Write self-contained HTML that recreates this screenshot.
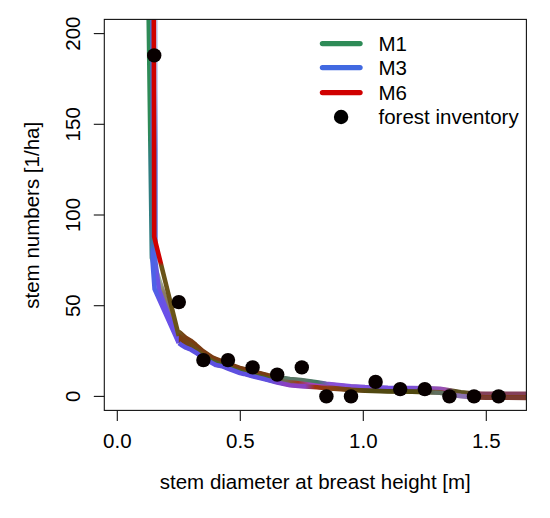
<!DOCTYPE html>
<html><head><meta charset="utf-8"><style>
html,body{margin:0;padding:0;background:#fff;}
svg{display:block;}
text{font-family:"Liberation Sans",sans-serif;font-size:20.5px;fill:#000;}
</style></head><body>
<svg width="550" height="518" viewBox="0 0 550 518">
<rect width="550" height="518" fill="#fff"/>
<defs><clipPath id="pc"><rect x="104.3" y="19.4" width="422.1" height="391"/></clipPath>
<linearGradient id="g1" gradientUnits="userSpaceOnUse" x1="178" y1="0" x2="526" y2="0"><stop offset="0.000" stop-color="#6a5a20"/><stop offset="0.023" stop-color="#7a3c12"/><stop offset="0.259" stop-color="#7a3c12"/><stop offset="0.307" stop-color="#5a7a68"/><stop offset="0.365" stop-color="#5a7a68"/><stop offset="0.399" stop-color="#3f7a60"/><stop offset="0.437" stop-color="#8a50d8"/><stop offset="0.638" stop-color="#7050e0"/><stop offset="0.724" stop-color="#8a50c0"/><stop offset="0.767" stop-color="#9a50b0"/><stop offset="0.796" stop-color="#5a5020"/><stop offset="0.828" stop-color="#5a5020"/><stop offset="0.862" stop-color="#84405a"/><stop offset="1.000" stop-color="#84405a"/></linearGradient><linearGradient id="g2" gradientUnits="userSpaceOnUse" x1="178" y1="0" x2="526" y2="0"><stop offset="0.000" stop-color="#7a3a10"/><stop offset="0.049" stop-color="#6a4a18"/><stop offset="0.092" stop-color="#4e5e1e"/><stop offset="0.259" stop-color="#4e5e1e"/><stop offset="0.307" stop-color="#6a6a50"/><stop offset="0.345" stop-color="#a03a1a"/><stop offset="0.379" stop-color="#a040c0"/><stop offset="0.414" stop-color="#a040c0"/><stop offset="0.451" stop-color="#8a4014"/><stop offset="0.523" stop-color="#6a4412"/><stop offset="0.580" stop-color="#4a4410"/><stop offset="0.695" stop-color="#4a4410"/><stop offset="0.739" stop-color="#8a3a10"/><stop offset="0.782" stop-color="#8a3a10"/><stop offset="0.813" stop-color="#6a6040"/><stop offset="0.853" stop-color="#7a3a10"/><stop offset="1.000" stop-color="#7a3a10"/></linearGradient><linearGradient id="g3" gradientUnits="userSpaceOnUse" x1="178" y1="0" x2="526" y2="0"><stop offset="0.000" stop-color="#5a50e0"/><stop offset="0.259" stop-color="#6050e0"/><stop offset="0.307" stop-color="#8a40c0"/><stop offset="0.365" stop-color="#8a40c0"/><stop offset="0.394" stop-color="#a03010"/><stop offset="0.437" stop-color="#8a4014"/><stop offset="0.552" stop-color="#504810"/><stop offset="0.695" stop-color="#504810"/><stop offset="0.739" stop-color="#607060"/><stop offset="0.776" stop-color="#607060"/><stop offset="0.805" stop-color="#8a70b0"/><stop offset="0.839" stop-color="#8a70b0"/><stop offset="0.868" stop-color="#7a3a30"/><stop offset="1.000" stop-color="#7a3a30"/></linearGradient><linearGradient id="vG" gradientUnits="userSpaceOnUse" x1="0" y1="0" x2="0" y2="400"><stop offset="0.000" stop-color="#2e8b57"/><stop offset="0.325" stop-color="#2e8b57"/><stop offset="0.400" stop-color="#2f7d80"/><stop offset="0.637" stop-color="#2f7d80"/><stop offset="0.660" stop-color="#7aa088"/><stop offset="0.700" stop-color="#a0b098"/><stop offset="0.730" stop-color="#8a7a66"/><stop offset="1.000" stop-color="#8a7a66"/></linearGradient><linearGradient id="vB2" gradientUnits="userSpaceOnUse" x1="0" y1="0" x2="0" y2="400"><stop offset="0.000" stop-color="#c8d0f4"/><stop offset="0.225" stop-color="#b0bcf0"/><stop offset="0.375" stop-color="#5a78e0"/><stop offset="0.645" stop-color="#4a6ae0"/><stop offset="0.688" stop-color="#6a52e4"/><stop offset="1.000" stop-color="#6a52e4"/></linearGradient><linearGradient id="vB1" gradientUnits="userSpaceOnUse" x1="0" y1="0" x2="0" y2="400"><stop offset="0.000" stop-color="#4a70d0"/><stop offset="0.325" stop-color="#4a70d0"/><stop offset="0.388" stop-color="#3a7a98"/><stop offset="0.600" stop-color="#3a7a98"/><stop offset="0.630" stop-color="#4d62e6"/><stop offset="0.725" stop-color="#4d62e6"/><stop offset="0.762" stop-color="#6a50e8"/><stop offset="1.000" stop-color="#6a50e8"/></linearGradient><linearGradient id="vR" gradientUnits="userSpaceOnUse" x1="0" y1="0" x2="0" y2="400"><stop offset="0.000" stop-color="#d00000"/><stop offset="0.655" stop-color="#d00000"/><stop offset="0.665" stop-color="#6a5418"/><stop offset="1.000" stop-color="#6a5418"/></linearGradient></defs>
<g clip-path="url(#pc)" fill="none" stroke-width="4.6" stroke-linejoin="round">
<polyline points="148.6,10.0 151.9,258.0 178.8,338.5" stroke="url(#vG)"/>
<polyline points="155.4,10.0 155.4,262.0 159.0,290.0 178.8,342.0" stroke="url(#vB2)"/>
<polyline points="152.3,10.0 152.7,100.0 152.6,262.0 154.6,289.0 178.8,343.0" stroke="url(#vB1)"/>
<polyline points="153.8,10.0 154.2,236.8 178.8,336.0" stroke="url(#vR)"/>
<polygon points="178.8,330.0 181.0,331.5 186.0,336.0 191.0,339.0 196.0,343.0 203.4,349.5 213.0,355.9 216.0,357.1 222.0,359.4 228.0,361.8 240.0,366.2 244.0,367.1 252.6,369.5 263.0,372.1 268.0,373.5 277.2,375.2 290.0,377.2 301.0,378.3 317.0,380.6 326.4,382.0 341.0,383.5 351.0,384.5 365.0,385.3 388.0,386.1 412.0,386.3 424.8,386.5 440.0,387.0 449.4,388.5 461.0,390.4 474.0,391.7 486.0,392.1 540.0,392.1 540.0,399.7 486.0,399.5 474.0,399.1 461.0,397.9 449.4,396.3 440.0,394.5 424.8,394.0 412.0,393.6 388.0,393.3 365.0,392.5 351.0,391.8 341.0,391.0 326.4,390.0 317.0,389.0 301.0,387.9 290.0,387.0 277.2,384.3 268.0,381.9 263.0,380.5 252.6,378.0 244.0,375.7 240.0,374.8 228.0,370.3 222.0,368.0 216.0,366.9 213.0,365.3 203.4,360.0 196.0,354.5 191.0,351.5 186.0,349.5 181.0,346.5 178.8,345.0" fill="url(#g2)" stroke="none"/>
<polyline points="178.8,331.2 181.0,332.7 186.0,337.2 191.0,340.2 196.0,344.2 203.4,350.7 213.0,357.1 216.0,358.3 222.0,360.6 228.0,363.0 240.0,367.4 244.0,368.3 252.6,370.7 263.0,373.3 268.0,374.7 277.2,376.4 290.0,378.4 301.0,379.5 317.0,381.8 326.4,383.2 341.0,384.7 351.0,385.7 365.0,386.5 388.0,387.3 412.0,387.5 424.8,387.7 440.0,388.2 449.4,389.7 461.0,391.6 474.0,392.9 486.0,393.3 540.0,393.3" stroke="url(#g1)" stroke-width="3.4"/>
<polyline points="178.8,343.2 181.0,344.7 186.0,347.7 191.0,349.7 196.0,352.7 203.4,358.2 213.0,363.5 216.0,365.1 222.0,366.2 228.0,368.5 240.0,373.0 244.0,373.9 252.6,376.2 263.0,378.7 268.0,380.1 277.2,382.5 290.0,385.2 301.0,386.1 317.0,387.2 326.4,388.2 341.0,389.2 351.0,390.0 365.0,390.7 388.0,391.5 412.0,391.8 424.8,392.2 440.0,392.7 449.4,394.5 461.0,396.1 474.0,397.3 486.0,397.7 540.0,397.9" stroke="url(#g3)" stroke-width="4.6"/>
</g>
<g fill="#080000">
<circle cx="154.2" cy="55.4" r="7.2"/><circle cx="178.8" cy="302.1" r="7.2"/><circle cx="203.4" cy="360.1" r="7.2"/><circle cx="228.0" cy="360.1" r="7.2"/><circle cx="252.6" cy="367.4" r="7.2"/><circle cx="277.2" cy="374.6" r="7.2"/><circle cx="301.8" cy="367.4" r="7.2"/><circle cx="326.4" cy="396.4" r="7.2"/><circle cx="351.0" cy="396.4" r="7.2"/><circle cx="375.6" cy="381.9" r="7.2"/><circle cx="400.2" cy="389.1" r="7.2"/><circle cx="424.8" cy="389.1" r="7.2"/><circle cx="449.4" cy="396.4" r="7.2"/><circle cx="474.0" cy="396.4" r="7.2"/><circle cx="498.6" cy="396.4" r="7.2"/>
</g>
<g fill="none" stroke="#111" stroke-width="1.1">
<rect x="104.3" y="19.4" width="422.1" height="391"/>
<line x1="93.8" y1="396.4" x2="104.3" y2="396.4"/><line x1="93.8" y1="305.7" x2="104.3" y2="305.7"/><line x1="93.8" y1="215.0" x2="104.3" y2="215.0"/><line x1="93.8" y1="124.3" x2="104.3" y2="124.3"/><line x1="93.8" y1="33.6" x2="104.3" y2="33.6"/>
<line x1="117.3" y1="410.4" x2="117.3" y2="421"/><line x1="240.3" y1="410.4" x2="240.3" y2="421"/><line x1="363.3" y1="410.4" x2="363.3" y2="421"/><line x1="486.3" y1="410.4" x2="486.3" y2="421"/>
</g>
<text transform="translate(80.3,396.4) rotate(-90)" text-anchor="middle">0</text><text transform="translate(80.3,305.7) rotate(-90)" text-anchor="middle">50</text><text transform="translate(80.3,215.0) rotate(-90)" text-anchor="middle">100</text><text transform="translate(80.3,124.3) rotate(-90)" text-anchor="middle">150</text><text transform="translate(80.3,33.6) rotate(-90)" text-anchor="middle">200</text>
<text x="117.3" y="447.5" text-anchor="middle">0.0</text><text x="240.3" y="447.5" text-anchor="middle">0.5</text><text x="363.3" y="447.5" text-anchor="middle">1.0</text><text x="486.3" y="447.5" text-anchor="middle">1.5</text>
<text x="315.3" y="488.6" text-anchor="middle">stem diameter at breast height [m]</text>
<text transform="translate(38.8,215.3) rotate(-90)" text-anchor="middle">stem numbers [1/ha]</text>
<g stroke-width="5.4" stroke-linecap="round">
<line x1="322.5" y1="43.6" x2="360" y2="43.6" stroke="#2e8b57"/>
<line x1="322.5" y1="67.6" x2="360" y2="67.6" stroke="#4169e1"/>
<line x1="322.5" y1="92.6" x2="360" y2="92.6" stroke="#d00000"/>
</g>
<circle cx="341.1" cy="117" r="7.2" fill="#000"/>
<text x="378.5" y="51.4">M1</text>
<text x="378.5" y="75.4">M3</text>
<text x="378.5" y="99.6">M6</text>
<text x="378.5" y="124.2">forest inventory</text>
</svg>
</body></html>
